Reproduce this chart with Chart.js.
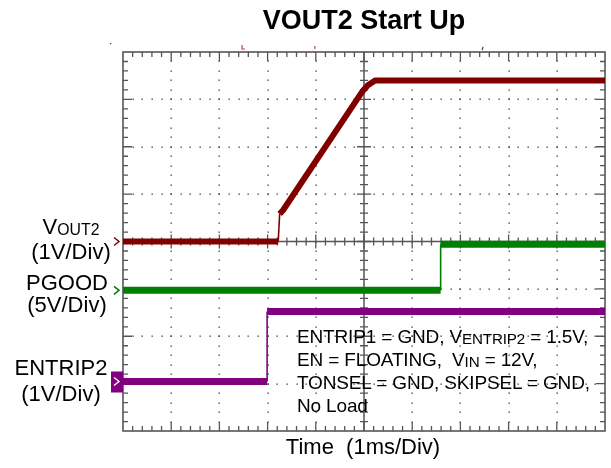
<!DOCTYPE html>
<html>
<head>
<meta charset="utf-8">
<script src="https://cdn.jsdelivr.net/npm/chart.js@4.4.1/dist/chart.umd.min.js"></script>
<style>
  html, body { margin: 0; padding: 0; background: #fff; }
  #wrap { position: relative; width: 611px; height: 468px; overflow: hidden; font-family: "Liberation Sans", Arial, sans-serif; color: #000; }
  #c { position: absolute; left: 0; top: 0; }
  .t { position: absolute; white-space: nowrap; line-height: 1; }
  .lab { font-size: 22px; transform: translateX(-50%); }
  .sub { font-size: 0.72em; position: relative; top: 1px; }
  .ann { font-size: 19px; left: 297px; letter-spacing: -0.15px; }
  .ann .sub { font-size: 0.8em; }
</style>
</head>
<body>
<div id="wrap">
  <canvas id="c" width="611" height="468"></canvas>
  <div class="t" style="left:364px; top:7px; transform:translateX(-50%); font-size:27px; font-weight:bold;">VOUT2 Start Up</div>
  <div class="t lab" style="left:71px; top:216px;">V<span class="sub">OUT2</span></div>
  <div class="t lab" style="left:71px; top:241px;">(1V/Div)</div>
  <div class="t lab" style="left:67px; top:272px;">PGOOD</div>
  <div class="t lab" style="left:67px; top:294px;">(5V/Div)</div>
  <div class="t lab" style="left:61px; top:357px;">ENTRIP2</div>
  <div class="t lab" style="left:61px; top:383px;">(1V/Div)</div>
  <div class="t ann" style="top:327px;">ENTRIP1 = GND, V<span class="sub">ENTRIP2</span> = 1.5V,</div>
  <div class="t ann" style="top:350px;">EN = FLOATING,&nbsp; V<span class="sub">IN</span> = 12V,</div>
  <div class="t ann" style="top:373px;">TONSEL = GND, SKIPSEL = GND,</div>
  <div class="t ann" style="top:396px;">No Load</div>
  <div class="t" style="left:363px; top:436px; transform:translateX(-50%); font-size:22px;">Time&nbsp; (1ms/Div)</div>
</div>
<script>
// Time axis in divisions (1 ms/div), vertical axis in screen divisions
const xDivs = 10;
const yDivs = 8;

// VOUT2 trace (1 V/div)
const vout2Time = [0, 3.22, 3.25, 3.32, 4.96, 5.08, 5.23, 10];
const vout2Level = [4.0, 4.0, 4.58, 4.66, 7.16, 7.30, 7.40, 7.40];

// PGOOD trace (5 V/div)
const pgoodTime = [0, 6.59, 6.59, 10];
const pgoodLevel = [2.97, 2.97, 3.94, 3.94];

// ENTRIP2 trace (1 V/div)
const entripTime = [0, 2.99, 2.99, 10];
const entripLevel = [1.045, 1.045, 2.52, 2.52];

// Channel ground-reference markers
const channelNames = ["VOUT2", "PGOOD", "ENTRIP2"];
const channelZero = [4.0, 2.97, 1.045];
const channelColors = ["#800000", "#008000", "#800080"];

function pts(xs, ys) { return xs.map((x, i) => ({ x: x, y: ys[i] })); }

const scopePlugin = {
  id: 'scope',
  beforeDatasetsDraw(chart) {
    const ctx = chart.ctx;
    const xs = chart.scales.x, ys = chart.scales.y;
    const L = xs.getPixelForValue(0), R = xs.getPixelForValue(xDivs);
    const T = ys.getPixelForValue(yDivs), B = ys.getPixelForValue(0);
    ctx.save();
    // dotted grid
    ctx.fillStyle = '#333';
    for (let i = 1; i < xDivs; i++) {
      if (i === xDivs / 2) continue;
      const px = Math.round(xs.getPixelForValue(i));
      for (let j = 1; j < yDivs * 5; j++) {
        const py = Math.round(ys.getPixelForValue(j / 5));
        ctx.fillRect(px - 0.5, py - 0.5, 1.3, 1.3);
      }
    }
    for (let j = 1; j < yDivs; j++) {
      if (j === yDivs / 2) continue;
      const py = Math.round(ys.getPixelForValue(j));
      for (let i = 1; i < xDivs * 5; i++) {
        const px = Math.round(xs.getPixelForValue(i / 5));
        ctx.fillRect(px - 0.5, py - 0.5, 1.3, 1.3);
      }
    }
    // center cross
    ctx.strokeStyle = '#555';
    ctx.lineWidth = 1.5;
    const cx = xs.getPixelForValue(xDivs / 2), cy = ys.getPixelForValue(yDivs / 2);
    ctx.beginPath();
    ctx.moveTo(cx, T); ctx.lineTo(cx, B);
    ctx.moveTo(L, cy); ctx.lineTo(R, cy);
    ctx.stroke();
    ctx.lineWidth = 1.3;
    ctx.beginPath();
    for (let i = 1; i < xDivs * 5; i++) {
      const px = xs.getPixelForValue(i / 5);
      const len = (i % 5 === 0) ? 7 : 4;
      ctx.moveTo(px, cy - len); ctx.lineTo(px, cy + len);
    }
    for (let j = 1; j < yDivs * 5; j++) {
      const py = ys.getPixelForValue(j / 5);
      const len = (j % 5 === 0) ? 7 : 4;
      ctx.moveTo(cx - len, py); ctx.lineTo(cx + len, py);
    }
    ctx.stroke();
    // border with inward ticks
    ctx.lineWidth = 1.6;
    ctx.strokeRect(L, T, R - L, B - T);
    ctx.lineWidth = 1.3;
    ctx.beginPath();
    for (let i = 1; i < xDivs * 5; i++) {
      const px = xs.getPixelForValue(i / 5);
      const len = (i % 5 === 0) ? 9 : 5;
      ctx.moveTo(px, T); ctx.lineTo(px, T + len);
      ctx.moveTo(px, B); ctx.lineTo(px, B - len);
    }
    for (let j = 1; j < yDivs * 5; j++) {
      const py = ys.getPixelForValue(j / 5);
      const len = (j % 5 === 0) ? 9 : 5;
      ctx.moveTo(L, py); ctx.lineTo(L + len, py);
      ctx.moveTo(R, py); ctx.lineTo(R - len, py);
    }
    ctx.stroke();
    // small trigger / position markers above plot
    ctx.strokeStyle = '#c04040';
    ctx.lineWidth = 1.2;
    ctx.beginPath();
    const m1 = xs.getPixelForValue(2.47);
    ctx.moveTo(m1, T - 7); ctx.lineTo(m1, T - 3); ctx.lineTo(m1 + 3, T - 3);
    const m2 = xs.getPixelForValue(3.98);
    ctx.moveTo(m2, T - 6); ctx.lineTo(m2, T - 3);
    ctx.stroke();
    ctx.strokeStyle = '#444';
    ctx.beginPath();
    const m3 = xs.getPixelForValue(7.47);
    ctx.moveTo(m3, T - 5); ctx.lineTo(m3 - 1, T - 2);
    ctx.stroke();
    ctx.fillStyle = '#333';
    ctx.fillRect(L - 13, T - 9, 1.2, 1.2);
    ctx.restore();
  },
  afterDatasetsDraw(chart) {
    const ctx = chart.ctx;
    const xs = chart.scales.x, ys = chart.scales.y;
    const L = xs.getPixelForValue(0);
    ctx.save();
    channelZero.forEach((lv, k) => {
      const py = ys.getPixelForValue(lv);
      if (channelNames[k] === 'ENTRIP2') {
        ctx.fillStyle = channelColors[k];
        ctx.fillRect(L - 12, py - 10, 12, 21);
        ctx.strokeStyle = '#fff';
        ctx.lineWidth = 1.4;
        ctx.beginPath();
        ctx.moveTo(L - 9, py - 4); ctx.lineTo(L - 4, py); ctx.lineTo(L - 9, py + 4);
        ctx.stroke();
      } else {
        ctx.strokeStyle = channelColors[k];
        ctx.lineWidth = 1.5;
        ctx.beginPath();
        ctx.moveTo(L - 9, py - 4); ctx.lineTo(L - 4, py); ctx.lineTo(L - 9, py + 4);
        ctx.stroke();
      }
    });
    ctx.restore();
  }
};

function seg(thick) {
  return {
    borderWidth: c => (Math.abs(c.p1.parsed.x - c.p0.parsed.x) < 0.05 ? 1.6 : thick)
  };
}

new Chart(document.getElementById('c'), {
  type: 'line',
  data: {
    datasets: [
      { label: 'VOUT2', data: pts(vout2Time, vout2Level), borderColor: channelColors[0], borderWidth: 6, segment: seg(6) },
      { label: 'PGOOD', data: pts(pgoodTime, pgoodLevel), borderColor: channelColors[1], borderWidth: 7, segment: seg(7) },
      { label: 'ENTRIP2', data: pts(entripTime, entripLevel), borderColor: channelColors[2], borderWidth: 7, segment: seg(7) }
    ]
  },
  options: {
    responsive: false,
    animation: false,
    layout: { padding: { left: 123, right: 6, top: 52, bottom: 37 } },
    elements: { point: { radius: 0 }, line: { tension: 0, borderCapStyle: 'butt', borderJoinStyle: 'round' } },
    plugins: { legend: { display: false }, tooltip: { enabled: false }, title: { display: false } },
    scales: {
      x: { type: 'linear', min: 0, max: xDivs, display: false },
      y: { type: 'linear', min: 0, max: yDivs, display: false }
    }
  },
  plugins: [scopePlugin]
});
</script>
</body>
</html>
